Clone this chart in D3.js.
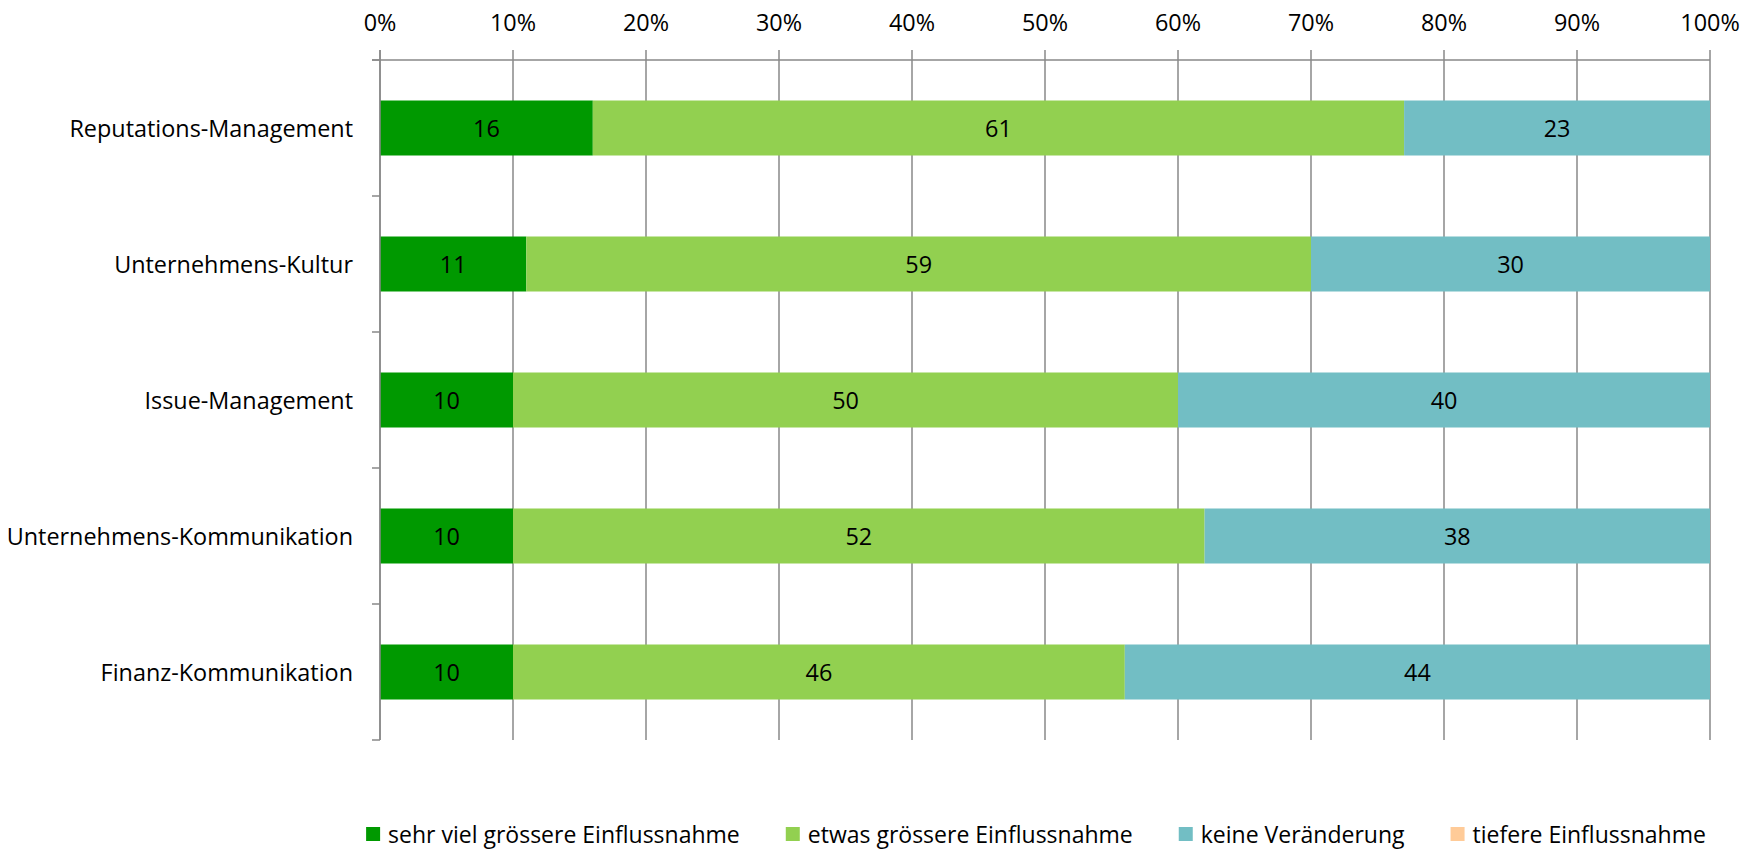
<!DOCTYPE html>
<html><head><meta charset="utf-8">
<script src="https://cdn.jsdelivr.net/npm/d3@7"></script>
<style>body{margin:0;background:#fff}svg{display:block}text{font-family:"Open Sans",sans-serif;fill:#000}</style>
</head><body>
<script>
const categories = ["Reputations-Management","Unternehmens-Kultur","Issue-Management","Unternehmens-Kommunikation","Finanz-Kommunikation"];
const seriesNames = ["sehr viel grössere Einflussnahme","etwas grössere Einflussnahme","keine Veränderung","tiefere Einflussnahme"];
const sehrViel = [16,11,10,10,10];
const etwas = [61,59,50,52,46];
const keine = [23,30,40,38,44];
const tiefere = [0,0,0,0,0];
const tickValues = [0,10,20,30,40,50,60,70,80,90,100];
const tickLabels = ["0%","10%","20%","30%","40%","50%","60%","70%","80%","90%","100%"];
const colors = ["#009900","#92D050","#72BEC4","#FFCB98"];

const W=1761,H=853;
const svg=d3.select("body").append("svg").attr("width",W).attr("height",H);
const L=380,R=1710,T=60,B=740;
const x=d3.scaleLinear().domain([0,100]).range([L,R]);
const y=d3.scaleBand().domain(categories).range([T,B]).padding(0);
const barH=55;
const fs=23.4;
const legFs=23;

const rows=categories.map((c,i)=>({cat:c,s0:sehrViel[i],s1:etwas[i],s2:keine[i],s3:tiefere[i]}));
const keys=["s0","s1","s2","s3"];
const stacked=d3.stack().keys(keys)(rows);

const grid=svg.append("g");
grid.selectAll("line").data(tickValues).join("line")
  .attr("x1",d=>x(d)).attr("x2",d=>x(d)).attr("y1",T-10).attr("y2",B)
  .attr("stroke","#898989").attr("stroke-width",1.5);
svg.append("line").attr("x1",L-8).attr("x2",R).attr("y1",T).attr("y2",T).attr("stroke","#898989").attr("stroke-width",1.5);
const bounds=categories.map(c=>y(c)).concat([B]);
svg.append("g").selectAll("line").data(bounds).join("line")
  .attr("x1",L-8).attr("x2",L).attr("y1",d=>d).attr("y2",d=>d).attr("stroke","#898989").attr("stroke-width",1.5);

svg.append("g").selectAll("text").data(tickValues).join("text")
  .attr("x",d=>x(d)).attr("y",22).attr("text-anchor","middle").attr("dominant-baseline","central")
  .attr("font-size",fs).text((d,i)=>tickLabels[i]);

const off=(y.bandwidth()-barH)/2;
const sg=svg.append("g").selectAll("g").data(stacked).join("g").attr("fill",(d,i)=>colors[i]);
sg.selectAll("rect").data(d=>d.filter(p=>p[1]-p[0]>0)).join("rect")
  .attr("x",d=>x(d[0])).attr("width",d=>x(d[1])-x(d[0]))
  .attr("y",d=>y(d.data.cat)+off).attr("height",barH);
const lg=svg.append("g");
stacked.forEach(s=>{
  s.forEach(p=>{
    const v=p[1]-p[0];
    if(v>0) lg.append("text").attr("x",(x(p[0])+x(p[1]))/2).attr("y",y(p.data.cat)+y.bandwidth()/2)
      .attr("text-anchor","middle").attr("dominant-baseline","central").attr("font-size",fs).text(v);
  });
});
svg.append("line").attr("x1",L).attr("x2",L).attr("y1",T-10).attr("y2",B).attr("stroke","#898989").attr("stroke-width",1.5);

svg.append("g").selectAll("text").data(categories).join("text")
  .attr("x",L-27).attr("y",d=>y(d)+y.bandwidth()/2).attr("text-anchor","end").attr("dominant-baseline","central")
  .attr("font-size",fs).text(d=>d);

const leg=svg.append("g");
const items=seriesNames.map((n,i)=>{
  const g=leg.append("g");
  g.append("rect").attr("width",14).attr("height",14).attr("y",-7).attr("fill",colors[i]);
  const t=g.append("text").attr("x",22).attr("y",0).attr("dominant-baseline","central").attr("font-size",legFs).text(n);
  return {g,w:22+t.node().getComputedTextLength()};
});
const gap=46;
const total=d3.sum(items,d=>d.w)+gap*(items.length-1);
let cx=1036-total/2;
items.forEach(it=>{it.g.attr("transform",`translate(${cx},834)`);cx+=it.w+gap;});
</script>
</body></html>
